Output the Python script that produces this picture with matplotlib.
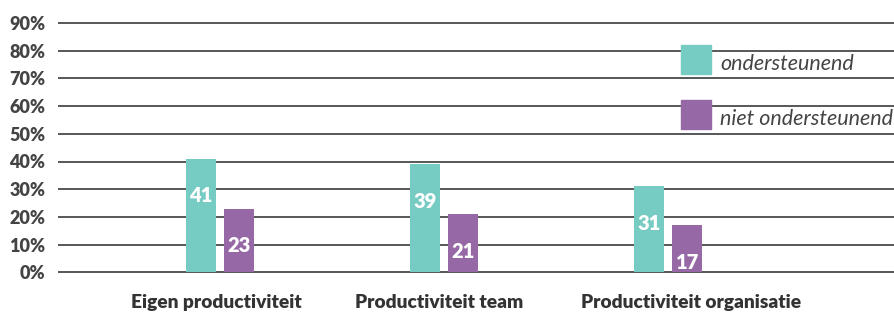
import numpy as np
import matplotlib
matplotlib.use("Agg")
import matplotlib.pyplot as plt
from matplotlib.transforms import offset_copy

categories = ["Eigen productiviteit", "Productiviteit team", "Productiviteit organisatie"]
ondersteunend = [41, 39, 31]
niet_ondersteunend = [23, 21, 17]
series_names = ["ondersteunend", "niet ondersteunend"]
yticks = [0, 10, 20, 30, 40, 50, 60, 70, 80, 90]

teal = "#76CBC2"
purple = "#9668A5"
grey = "#444444"

plt.rcParams["font.family"] = ["Lato", "DejaVu Sans"]

fig = plt.figure(figsize=(8.95, 3.13), dpi=100)
ax = fig.add_axes([58 / 895, (313 - 272.3) / 313, 1 - 58 / 895, (272.3 - 23) / 313])

x = np.arange(len(categories))
w = 0.134
off = 0.0846

# gridlines, drawn by hand so the 0 and 90 lines are not clipped
ax.hlines(yticks, -0.72, 3.01, color="#4a4a4a", lw=1.3, zorder=0, clip_on=False)

b1 = ax.bar(x - off, ondersteunend, w, color=teal, zorder=2)
b2 = ax.bar(x + off, niet_ondersteunend, w, color=purple, zorder=2)

for bars, vals in [(b1, ondersteunend), (b2, niet_ondersteunend)]:
    for r, v in zip(bars, vals):
        ax.annotate(str(v), (r.get_x() + r.get_width() / 2, v), xytext=(0, -37),
                    textcoords="offset pixels", ha="center", va="center",
                    color="white", fontsize=14.5, fontweight="heavy", zorder=3)

ax.set_xlim(-0.72, 3.01)
ax.set_ylim(0, 90)
ax.set_yticks(yticks)
ax.set_yticklabels([f"{t}%" for t in yticks], fontsize=13, fontweight="heavy", color=grey)
ax.set_xticks([])
ax.tick_params(axis="y", length=0, pad=9)
for s in ax.spines.values():
    s.set_visible(False)

# category labels under the groups (the last one sits a little to the right)
label_shift = [-3, -5, 23]
for xi, name, dx in zip(x, categories, label_shift):
    tr = offset_copy(ax.get_xaxis_transform(), fig=fig, x=dx, y=-30, units="dots")
    ax.text(xi, 0, name, transform=tr, ha="center", va="center",
            fontsize=13.8, fontweight="heavy", color="#333333")

# legend: coloured squares with italic text to the right
for name, col, top in zip(series_names, [teal, purple], [45, 100]):
    fy = (313 - top - 29) / 313
    fig.patches.append(plt.Rectangle((681 / 895, fy), 30 / 895, 29 / 313,
                                     transform=fig.transFigure, color=col, zorder=5))
    fig.text(720 / 895, fy + 10 / 313, name, fontsize=15.5, style="italic",
             color=grey, va="center", ha="left")

fig.savefig("out.png", dpi=100)
